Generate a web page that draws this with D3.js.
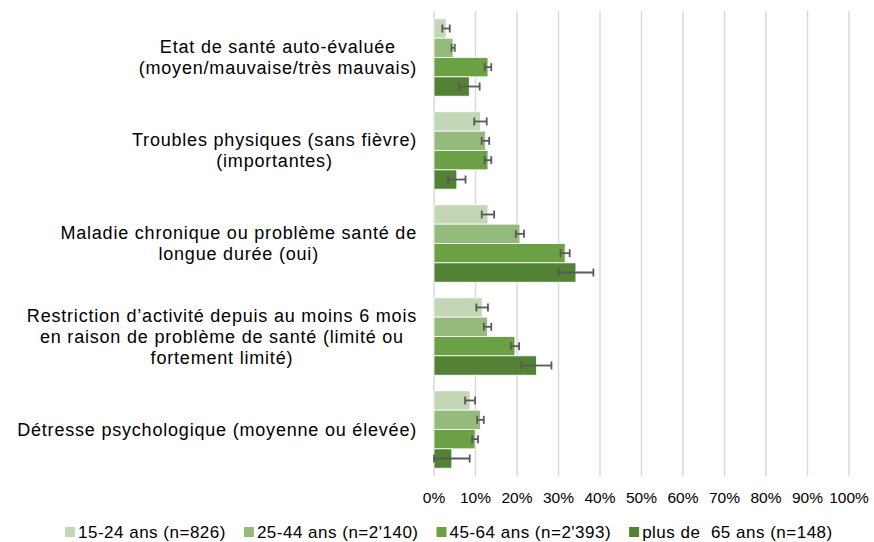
<!DOCTYPE html>
<html>
<head>
<meta charset="utf-8">
<script src="https://cdn.jsdelivr.net/npm/d3@7"></script>
<style>
  body { margin: 0; background: #fff; }
  svg { font-family: "Liberation Sans", Arial, sans-serif; }
  text { white-space: pre; }
</style>
</head>
<body>
<div id="chart"></div>
<script>
const categories = [
  ["Etat de santé auto-évaluée", "(moyen/mauvaise/très mauvais)"],
  ["Troubles physiques (sans fièvre)", "(importantes)"],
  ["Maladie chronique ou problème santé de", "longue durée (oui)"],
  ["Restriction d’activité depuis au moins 6 mois", "en raison de problème de santé (limité ou", "fortement limité)"],
  ["Détresse psychologique (moyenne ou élevée)"]
];
const seriesNames = ["15-24 ans (n=826)", "25-44 ans (n=2'140)", "45-64 ans (n=2'393)", "plus de  65 ans (n=148)"];
const colors = ["#c3d6b5", "#95bb7c", "#6ba144", "#548235"];

// values in %, one array per age group, in category order
const v1524 = [2.9, 11.2, 13.0, 11.6, 8.7];
const v2544 = [4.6, 12.4, 20.7, 12.9, 11.2];
const v4564 = [13.0, 13.0, 31.6, 19.5, 9.9];
const v65 = [8.5, 5.5, 34.2, 24.7, 4.3];
// error margins (+/-)
const e1524 = [0.9, 1.5, 1.5, 1.4, 1.2];
const e2544 = [0.4, 0.9, 1.0, 0.9, 0.8];
const e4564 = [0.8, 0.8, 1.1, 1.0, 0.7];
const e65 = [2.5, 2.1, 4.2, 3.6, 4.3];
const ticks = [0, 10, 20, 30, 40, 50, 60, 70, 80, 90, 100];

const values = [v1524, v2544, v4564, v65];
const errors = [e1524, e2544, e4564, e65];

const width = 874, height = 542;
const svg = d3.select("#chart").append("svg")
  .attr("width", width).attr("height", height);

const x = d3.scaleLinear().domain([0, 100]).range([434, 849]);
const y0 = d3.scaleBand().domain(d3.range(categories.length)).range([11, 476])
  .paddingInner(0.168).paddingOuter(0.084);
const y1 = d3.scaleBand().domain(d3.range(seriesNames.length)).range([0, y0.bandwidth()]);

// gridlines
svg.append("g").selectAll("line").data(ticks).join("line")
  .attr("x1", d => x(d)).attr("x2", d => x(d))
  .attr("y1", 11).attr("y2", 476)
  .attr("stroke", "#d9d9d9").attr("stroke-width", 1.5);

// tick labels
svg.append("g").selectAll("text").data(ticks).join("text")
  .attr("x", d => x(d)).attr("y", 503)
  .attr("text-anchor", "middle").attr("font-size", 15.5).attr("fill", "#000")
  .text(d => d + "%");

const rows = [];
categories.forEach((c, i) => values.forEach((s, j) => rows.push({ i, j, v: s[i], e: errors[j][i] })));

const gb = svg.append("g");
gb.selectAll("rect").data(rows).join("rect")
  .attr("x", x(0))
  .attr("y", d => y0(d.i) + y1(d.j))
  .attr("width", d => x(d.v) - x(0))
  .attr("height", y1.bandwidth())
  .attr("fill", d => colors[d.j])
  .attr("stroke", "#fff").attr("stroke-width", 0.8);

// error bars
const ge = svg.append("g").attr("stroke", "#595959").attr("stroke-width", 1.8);
rows.forEach(d => {
  const cy = y0(d.i) + y1(d.j) + y1.bandwidth() / 2;
  const lo = Math.max(0, d.v - d.e), hi = d.v + d.e;
  ge.append("line").attr("x1", x(lo)).attr("x2", x(hi)).attr("y1", cy).attr("y2", cy);
  ge.append("line").attr("x1", x(lo)).attr("x2", x(lo)).attr("y1", cy - 4).attr("y2", cy + 4);
  ge.append("line").attr("x1", x(hi)).attr("x2", x(hi)).attr("y1", cy - 4).attr("y2", cy + 4);
});

// category labels: centered lines, block right-aligned near the axis
const lineH = 21;
categories.forEach((lines, i) => {
  const g = svg.append("g");
  const t = g.selectAll("text").data(lines).join("text")
    .attr("x", 0)
    .attr("y", (d, k) => (k - (lines.length - 1) / 2) * lineH)
    .attr("dy", "0.35em")
    .attr("text-anchor", "middle").attr("font-size", 18)
    .attr("letter-spacing", 0.8).attr("fill", "#000")
    .text(d => d);
  let w = 0;
  t.each(function() { w = Math.max(w, this.getComputedTextLength()); });
  g.attr("transform", `translate(${417 - w / 2},${y0(i) + y0.bandwidth() / 2})`);
});

// legend
const leg = svg.append("g").attr("transform", "translate(65,532)");
let lx = 0;
seriesNames.forEach((s, j) => {
  const it = leg.append("g").attr("transform", `translate(${lx},0)`);
  it.append("rect").attr("x", 0).attr("y", -5).attr("width", 10).attr("height", 10).attr("fill", colors[j]);
  const t = it.append("text").attr("x", 13).attr("dy", "0.35em")
    .attr("font-size", 17).attr("letter-spacing", 0.5).attr("fill", "#000").text(s);
  lx += 13 + t.node().getComputedTextLength() + 18;
});
</script>
</body>
</html>
